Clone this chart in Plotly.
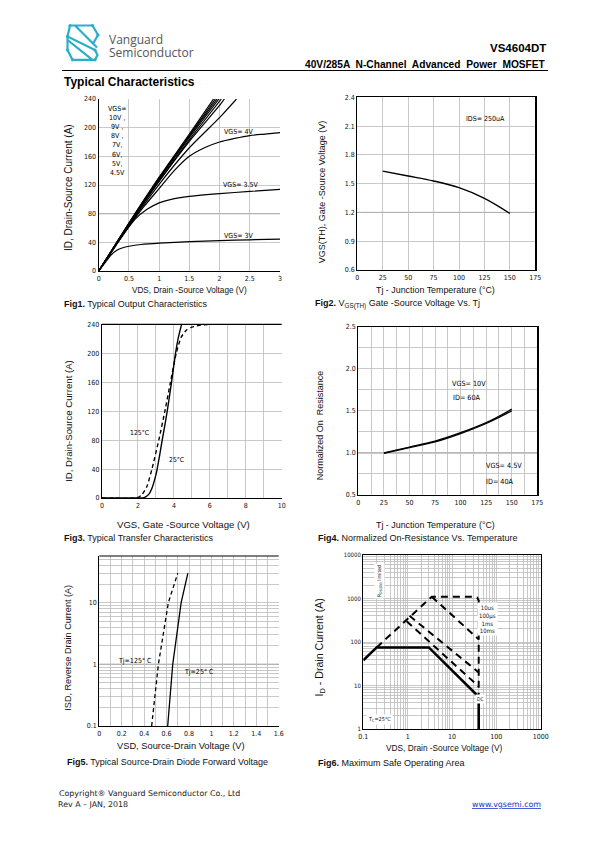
import plotly.graph_objects as go

W, H = 595, 842

# ---------------- DATA ----------------
# Fig1 output characteristics (VDS in V, ID in A)
f1_vds_3v = [0, 0.1, 0.2, 0.3, 0.4, 0.5, 0.7, 1.0, 1.5, 2.0, 2.5, 3.0]
f1_id_3v = [0, 11, 22, 29, 32.5, 34.5, 37, 39, 41, 42.5, 43.5, 44.5]
f1_vds_35v = [0, 0.2, 0.4, 0.6, 0.8, 1.0, 1.2, 1.5, 2.0, 2.5, 3.0]
f1_id_35v = [0, 25, 50, 72, 86, 95, 100, 104, 108, 111, 114]
f1_vds_4v = [0, 0.25, 0.5, 0.75, 1.0, 1.25, 1.5, 1.75, 2.0, 2.25, 2.5, 2.75, 3.0]
f1_id_4v = [0, 32, 62, 90, 115, 140, 160, 172, 180, 185, 189, 191, 193]
f1_vds_45v = [0, 0.5, 1.0, 1.5, 2.0, 2.28]
f1_id_45v = [0, 63, 121, 172, 214, 240]
f1_vds_5v = [0, 0.5, 1.0, 1.5, 2.0, 2.08]
f1_id_5v = [0, 64, 125, 181, 231, 240]
f1_vds_6v = [0, 0.5, 1.0, 1.5, 2.03]
f1_id_6v = [0, 65, 126, 183, 240]
f1_vds_7v = [0, 0.5, 1.0, 1.5, 1.99]
f1_id_7v = [0, 65.5, 128, 186, 240]
f1_vds_8v = [0, 0.5, 1.0, 1.5, 1.96]
f1_id_8v = [0, 66, 129, 188, 240]
f1_vds_9v = [0, 0.5, 1.0, 1.5, 1.93]
f1_id_9v = [0, 66.5, 130, 189, 240]
f1_vds_10v = [0, 0.5, 1.0, 1.5, 1.90]
f1_id_10v = [0, 67, 131, 191, 240]

# Fig2 threshold voltage vs Tj
f2_tj = [25, 50, 75, 100, 125, 150]
f2_vth = [1.63, 1.58, 1.528, 1.458, 1.347, 1.19]

# Fig3 transfer characteristics
f3_vgs_25 = [0, 2.0, 2.35, 2.6, 2.8, 3.0, 3.07, 3.2, 3.35, 3.5, 3.63, 3.87, 4.09, 4.25, 4.43]
f3_id_25 = [0, 0, 0.5, 5, 15, 32, 40, 58, 80, 101, 120, 160, 200, 222, 240]
f3_vgs_125 = [0, 1.9, 2.2, 2.5, 2.78, 3.16, 3.5, 3.81, 4.13, 4.4, 4.7, 5.0, 5.5, 6.0]
f3_id_125 = [0, 0, 4, 16, 40, 80, 120, 160, 200, 222, 232, 236, 239, 240]

# Fig4 normalized on-resistance
f4_tj = [25, 50, 75, 100, 125, 150]
f4_r_10v = [1.0, 1.07, 1.14, 1.24, 1.36, 1.52]
f4_r_45v = [0.995, 1.063, 1.132, 1.23, 1.35, 1.50]

# Fig5 diode forward voltage
f5_vsd_25 = [0.61, 0.655, 0.73, 0.79]
f5_isd_25 = [0.1, 1, 10, 30]
f5_vsd_125 = [0.467, 0.527, 0.616, 0.70]
f5_isd_125 = [0.1, 1, 10, 30]

# Fig6 safe operating area
f6_dc_v = [0.1, 0.2, 3, 40, 40]
f6_dc_i = [38, 75, 75, 5.5, 1]
f6_env_v = [0.2, 3.5, 30, 37, 40, 40]
f6_env_i = [75, 1100, 1100, 1050, 900, 5.5]
f6_10us_v = [3.5, 40]
f6_10us_i = [1100, 115]
f6_1ms_v = [1.1, 40]
f6_1ms_i = [400, 20]
f6_10ms_v = [0.95, 40]
f6_10ms_i = [300, 9.5]

# tick labels
f5_yticks = [0.1, 1, 10]
f6_xticks = [0.1, 1, 10, 100, 1000]
f6_yticks = [1, 10, 100, 1000, 10000]

# ---------------- HELPERS ----------------
def px(x):
    return x / W


def py(y):
    return 1 - y / H


NARROW = "Liberation Sans Narrow, DejaVu Sans Condensed, Arial Narrow, sans-serif"
SANS = "Liberation Sans, Arial, sans-serif"
GRID = "#bcbcbc"

annotations = []
shapes = []


def ann(text, x, y, size=8.5, xanchor="left", yanchor="middle", family=SANS,
        color="#111", angle=0, bg=None):
    d = dict(text=text, x=px(x), y=py(y), xref="paper", yref="paper",
             xanchor=xanchor, yanchor=yanchor, showarrow=False,
             font=dict(size=size, family=family, color=color), textangle=angle)
    if bg:
        d["bgcolor"] = bg
        d["borderpad"] = 1
    annotations.append(d)


def dom(a, b, vertical=False):
    if vertical:
        return [py(b), py(a)]
    return [px(a), px(b)]


def axis(domain, anchor, rng, mirror=False, **kw):
    d = dict(domain=domain, anchor=anchor, range=rng, showgrid=True, automargin=False,
             gridcolor=GRID, gridwidth=0.8, showline=True, linecolor="black",
             linewidth=1.2, mirror=mirror, ticks="", zeroline=False,
             tickfont=dict(size=7, family=NARROW, color="#111"), layer="below traces")
    d.update(kw)
    return d


fig = go.Figure()

# Fig1
for xs, ys in [(f1_vds_3v, f1_id_3v), (f1_vds_35v, f1_id_35v), (f1_vds_4v, f1_id_4v),
               (f1_vds_45v, f1_id_45v), (f1_vds_5v, f1_id_5v), (f1_vds_6v, f1_id_6v),
               (f1_vds_7v, f1_id_7v), (f1_vds_8v, f1_id_8v), (f1_vds_9v, f1_id_9v),
               (f1_vds_10v, f1_id_10v)]:
    fig.add_trace(go.Scatter(x=xs, y=ys, mode="lines", line=dict(color="black", width=1.2,
                  shape="spline", smoothing=0.6), xaxis="x", yaxis="y", showlegend=False))

# Fig2
fig.add_trace(go.Scatter(x=f2_tj, y=f2_vth, mode="lines", line=dict(color="black", width=1.4,
              shape="spline"), xaxis="x2", yaxis="y2", showlegend=False))

# Fig3
fig.add_trace(go.Scatter(x=f3_vgs_25, y=f3_id_25, mode="lines", line=dict(color="black", width=1.4,
              shape="spline", smoothing=0.5), xaxis="x3", yaxis="y3", showlegend=False))
fig.add_trace(go.Scatter(x=f3_vgs_125, y=f3_id_125, mode="lines",
              line=dict(color="black", width=1.4, dash="4px,3px", shape="spline", smoothing=0.5),
              xaxis="x3", yaxis="y3", showlegend=False))

# Fig4
for ys in (f4_r_10v, f4_r_45v):
    fig.add_trace(go.Scatter(x=f4_tj, y=ys, mode="lines", line=dict(color="black", width=1.3,
                  shape="spline"), xaxis="x4", yaxis="y4", showlegend=False))

# Fig5
fig.add_trace(go.Scatter(x=f5_vsd_25, y=f5_isd_25, mode="lines", line=dict(color="black", width=1.3),
              xaxis="x5", yaxis="y5", showlegend=False))
fig.add_trace(go.Scatter(x=f5_vsd_125, y=f5_isd_125, mode="lines",
              line=dict(color="black", width=1.3, dash="4px,3px"),
              xaxis="x5", yaxis="y5", showlegend=False))

# Fig6
fig.add_trace(go.Scatter(x=f6_dc_v, y=f6_dc_i, mode="lines", line=dict(color="black", width=2.6),
              xaxis="x6", yaxis="y6", showlegend=False))
for xs, ys in [(f6_env_v, f6_env_i), (f6_10us_v, f6_10us_i), (f6_1ms_v, f6_1ms_i),
               (f6_10ms_v, f6_10ms_i)]:
    fig.add_trace(go.Scatter(x=xs, y=ys, mode="lines",
                  line=dict(color="black", width=2, dash="7px,5px"),
                  xaxis="x6", yaxis="y6", showlegend=False))

# ---------------- AXES ----------------
def logminor(lo, hi):
    vals = []
    e = lo
    while e < hi:
        for m in range(2, 10):
            vals.append(m * 10 ** e)
        e += 1
    return vals


layout_axes = dict(
    xaxis=axis(dom(98.7, 280), "y", [0, 3], dtick=0.5),
    yaxis=axis(dom(99, 271, True), "x", [0, 240], dtick=40),
    xaxis2=axis(dom(357.3, 535.3), "y2", [0, 175], mirror=True, dtick=25),
    yaxis2=axis(dom(97.3, 270, True), "x2", [0.6, 2.4], mirror=True, dtick=0.3, tickformat=".1f"),
    xaxis3=axis(dom(102, 281.7), "y3", [0, 10], dtick=2,
                minor=dict(dtick=1, showgrid=True, gridcolor=GRID, gridwidth=0.8)),
    yaxis3=axis(dom(324.3, 498, True), "x3", [0, 240], dtick=40),
    xaxis4=axis(dom(358.3, 537.3), "y4", [0, 175], mirror=True, dtick=25,
                minor=dict(dtick=12.5, showgrid=True, gridcolor=GRID, gridwidth=0.8)),
    yaxis4=axis(dom(326.7, 495, True), "x4", [0.5, 2.5], mirror=True, dtick=0.5, tickformat=".1f",
                minor=dict(dtick=0.25, showgrid=True, gridcolor=GRID, gridwidth=0.8)),
    xaxis5=axis(dom(99.3, 278.7), "y5", [0, 1.6], dtick=0.2,
                minor=dict(dtick=0.1, showgrid=True, gridcolor=GRID, gridwidth=0.8)),
    yaxis5=axis(dom(556, 726, True), "x5", [-1, 1.755], type="log", tickvals=f5_yticks,
                ticktext=[str(v) for v in f5_yticks],
                minor=dict(tickvals=logminor(-1, 2), showgrid=True, gridcolor=GRID, gridwidth=0.8)),
    xaxis6=axis(dom(363.3, 540.7), "y6", [-1, 3], type="log", mirror=True, tickvals=f6_xticks,
                ticktext=[str(v) for v in f6_xticks],
                minor=dict(tickvals=logminor(-1, 3), showgrid=True, gridcolor=GRID, gridwidth=0.8)),
    yaxis6=axis(dom(555, 729, True), "x6", [0, 4], type="log", mirror=True, tickvals=f6_yticks,
                ticktext=[str(v) for v in f6_yticks], tickfont=dict(size=6, family=NARROW, color="#111"),
                minor=dict(tickvals=logminor(0, 4), showgrid=True, gridcolor=GRID, gridwidth=0.8)),
)

# darker reference gridlines as seen in the original scans
for xr, yr, yv in [("x", "y", 80), ("x2", "y2", 1.2), ("x4", "y4", 1.0), ("x5", "y5", 1)]:
    shapes.append(dict(type="line", xref=f"{xr} domain", yref=yr, x0=0, x1=1, y0=yv, y1=yv,
                       line=dict(color="#7a7a7a", width=1), layer="below"))
# top border lines for the open-frame plots
for xr, yr in [("x3", "y3"), ("x5", "y5")]:
    shapes.append(dict(type="line", xref=f"{xr} domain", yref=f"{yr} domain", x0=0, x1=1, y0=1, y1=1,
                       line=dict(color="black", width=1.2)))

# ---------------- TEXT ----------------
# Header
ann("Vanguard", 107, 39.3, size=12, family="Open Sans, sans-serif", color="#555")
ann("Semiconductor", 107, 53, size=12, family="Open Sans, sans-serif", color="#555")
ann("<b>VS4604DT</b>", 548, 48, size=11.5, xanchor="right", color="#000")
ann("<b>40V/285A  N-Channel  Advanced  Power  MOSFET</b>", 548, 64, size=10.2, xanchor="right", color="#000")
shapes.append(dict(type="line", xref="paper", yref="paper", x0=px(62), x1=px(548), y0=py(70.5), y1=py(70.5),
                   line=dict(color="black", width=1)))
ann("<b>Typical Characteristics</b>", 62, 82, size=12, color="#000")

# Logo (cyan stylised S)
LOGO = "#2aaecb"
logo_path = ("M 70 25.5 L 92.5 25.5 L 98 35 L 92.5 44.5 "
             "M 70 25.5 L 67.5 36.5 L 95 50 L 97.5 55 L 95 59.8 L 72.5 59.8 L 67.5 50 "
             "M 75 25.5 L 97 47.5 M 67.5 40 L 92.5 59.8 M 67.5 36.5 L 67.5 50")


def conv_path(p):
    out = []
    toks = p.split()
    i = 0
    while i < len(toks):
        t = toks[i]
        if t in ("M", "L"):
            out.append(t)
            x = float(toks[i + 1]); y = float(toks[i + 2])
            out.append(f"{px(x):.5f},{py(y):.5f}")
            i += 3
        else:
            i += 1
    return " ".join(out)


shapes.append(dict(type="path", xref="paper", yref="paper", path=conv_path(logo_path),
                   line=dict(color=LOGO, width=2.2)))
for (lx, ly) in [(70, 25.5), (92.5, 25.5), (98, 35), (67.5, 36.5), (95, 50), (67.5, 50), (72.5, 59.8), (95, 59.8)]:
    shapes.append(dict(type="circle", xref="paper", yref="paper", x0=px(lx - 1.6), x1=px(lx + 1.6),
                       y0=py(ly + 1.6), y1=py(ly - 1.6), fillcolor=LOGO, line=dict(width=0)))

CAP = 9
# Fig1 texts
ann("VDS, Drain -Source Voltage (V)", 190, 290, size=8.2, xanchor="center")
ann("ID, Drain-Source Current (A)", 69, 188, size=10, xanchor="center", angle=-90)
ann("<b>Fig1.</b> Typical Output Characteristics", 62, 303.5, size=CAP)
ann("VGS=<br>10V ,<br>9V ,<br>8V ,<br>7V,<br>6V,<br>5V,<br>4.5V", 106, 141, size=7, family=NARROW,
    color="#000")
ann("VGS= 4V", 222, 131.5, size=7, family=NARROW, color="#000")
ann("VGS= 3.5V", 221, 185, size=7, family=NARROW, color="#000")
ann("VGS= 3V", 222, 235.5, size=7, family=NARROW, color="#000")

# Fig2 texts
ann("Tj - Junction Temperature (°C)", 436, 290, size=8.9, xanchor="center")
ann("VGS(TH), Gate -Source Voltage (V)", 321.7, 191.5, size=9, xanchor="center", angle=-90)
ann("<b>Fig2.</b> V<sub>GS(TH)</sub> Gate -Source Voltage Vs. Tj", 312.5, 303.5, size=CAP)
ann("IDS= 250uA", 485, 119.5, size=7, family=NARROW, xanchor="center", color="#000")

# Fig3 texts
ann("VGS, Gate -Source Voltage (V)", 183.5, 524.5, size=9.6, xanchor="center")
ann("ID, Drain-Source Current (A)", 68.3, 420.5, size=9.6, xanchor="center", angle=-90)
ann("<b>Fig3.</b> Typical Transfer Characteristics", 62, 538, size=CAP)
ann("125°C", 139.5, 432.5, size=6.8, family=NARROW, xanchor="center", color="#000")
ann("25°C", 176, 460, size=6.8, family=NARROW, xanchor="center", color="#000")

# Fig4 texts
ann("Tj - Junction Temperature (°C)", 436, 524.5, size=8.9, xanchor="center")
ann("Normalized On  Resistance", 320.7, 425.5, size=9, xanchor="center", angle=-90)
ann("<b>Fig4.</b> Normalized On-Resistance Vs. Temperature", 316, 538, size=CAP)
ann("VGS= 10V", 468.5, 383.5, size=7.2, family=NARROW, xanchor="center", color="#000")
ann("ID= 60A", 466.5, 397, size=7.2, family=NARROW, xanchor="center", color="#000")
ann("VGS= 4.5V", 503.5, 465.5, size=7.2, family=NARROW, xanchor="center", color="#000")
ann("ID= 40A", 500, 481.5, size=7.2, family=NARROW, xanchor="center", color="#000")

# Fig5 texts
ann("VSD, Source-Drain Voltage (V)", 181, 746, size=9.3, xanchor="center")
ann("ISD, Reverse Drain Current (A)", 67.7, 648, size=9.1, xanchor="center", angle=-90)
ann("<b>Fig5.</b> Typical Source-Drain Diode Forward Voltage", 64.5, 762, size=CAP)
ann("Tj=125° C", 135, 661, size=7, family=NARROW, xanchor="center", color="#000")
ann("Tj=25° C", 198.5, 672, size=7, family=NARROW, xanchor="center", color="#000")

# Fig6 texts
ann("VDS, Drain -Source Voltage (V)", 444, 747.5, size=8.3, xanchor="center")
ann("I<sub>D</sub> - Drain Current (A)", 319.5, 648, size=10.6, xanchor="center", angle=-90)
ann("<b>Fig6.</b> Maximum Safe Operating Area", 315.5, 763, size=CAP)
ann("R<sub>DS(ON)</sub> limited", 379, 581, size=5, family=NARROW, xanchor="center", angle=-90, bg="white")
ann("T<sub>C</sub>=25°C", 379.5, 719.5, size=5.5, family=NARROW, xanchor="center", bg="white")
ann("10us<br>100µs<br>1ms<br>10ms", 477, 618.5, size=6, family=NARROW, xanchor="left", bg="white")
ann("DC", 480, 699, size=5, family=NARROW, xanchor="center", bg="white")

# Footer
FOOT = "DejaVu Sans, Verdana, sans-serif"
ann("Copyright® Vanguard Semiconductor Co., Ltd", 57, 793.5, size=7.9, family=FOOT, color="#222")
ann("Rev A – JAN, 2018", 55.5, 804, size=7.9, family=FOOT, color="#222")
ann("<u>www.vgsemi.com</u>", 543, 804, size=7.9, family=FOOT, color="#1a33cc", xanchor="right")

fig.update_layout(
    width=W, height=H, margin=dict(l=0, r=0, t=0, b=0, autoexpand=False),
    paper_bgcolor="white", plot_bgcolor="white",
    showlegend=False, annotations=annotations, shapes=shapes,
    **layout_axes,
)

fig.write_html("out.html", config={"displayModeBar": False, "staticPlot": True},
               post_script="document.body.style.margin='0px';document.body.style.overflow='hidden';")
